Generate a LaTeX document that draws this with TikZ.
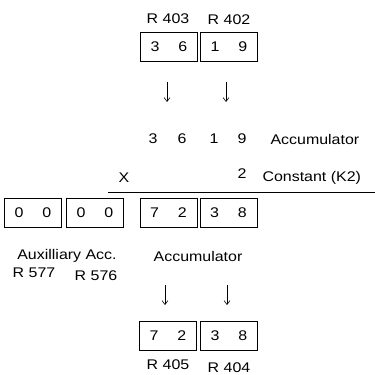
\documentclass[tikz,border=0pt]{standalone}
\usepackage{fontspec}
\setmainfont{Liberation Sans}[FakeStretch=1.14]
\usetikzlibrary{arrows.meta}

\begin{document}
\begin{tikzpicture}[x=1pt, y=-1pt, font=\fontsize{14}{16}\selectfont,
        regbox/.style={draw, line width=0.8pt, minimum width=57pt, minimum height=29pt, inner sep=0pt},
        downarrow/.style={-{Straight Barb[length=4pt, width=6pt]}, line width=0.6pt}]
    \useasboundingbox (0,0) rectangle (375,375);
    % registers
    \foreach \n/\x/\y/\a/\b in {r403/169/47/3/6, r402/229/47/1/9, r577/33/213/0/0, r576/95/213/0/0, a405/168.5/213/7/2, a404/228.5/213/3/8, r405/168/336/7/2, r404/229/336/3/8}
        \node[regbox] (\n) at (\x,\y) {\a\hspace{19pt}\b\hspace{4pt}};
    \node (l403) at (168,19) {R 403};
    \node (l402) at (229,20) {R 402};
    \node (l405) at (168,365) {R 405};
    \node (l404) at (229,368) {R 404};
    % accumulator and constant
    \foreach \i/\x/\d in {1/153/3, 2/182/6, 3/214/1, 4/242/9}
        \node (d\i) at (\x,139) {\d};
    \node[anchor=west] (acc) at (267,139) {Accumulator};
    \node (mul) at (124,178) {X};
    \node (k) at (242,174) {2};
    \node[anchor=west] (const) at (259,178) {Constant (K2)};
    \coordinate (rs) at (108,192);
    \coordinate (re) at (375,192);
    \draw[line width=0.8pt] (rs) -- (re);
    % result labels
    \node (aux) at (67,256) {Auxilliary Acc.};
    \node (l577) at (34,273) {R 577};
    \node (l576) at (96,276) {R 576};
    \node (acc2) at (198,256) {Accumulator};
    % arrows
    \foreach \i/\x/\y in {1/167/92, 2/226/92, 3/165/295, 4/227/295} {
        \coordinate (s\i) at (\x,\y-10);
        \coordinate (e\i) at (\x,\y+10);
        \draw[downarrow] (s\i) -- (e\i);
    }
\end{tikzpicture}
\end{document}
